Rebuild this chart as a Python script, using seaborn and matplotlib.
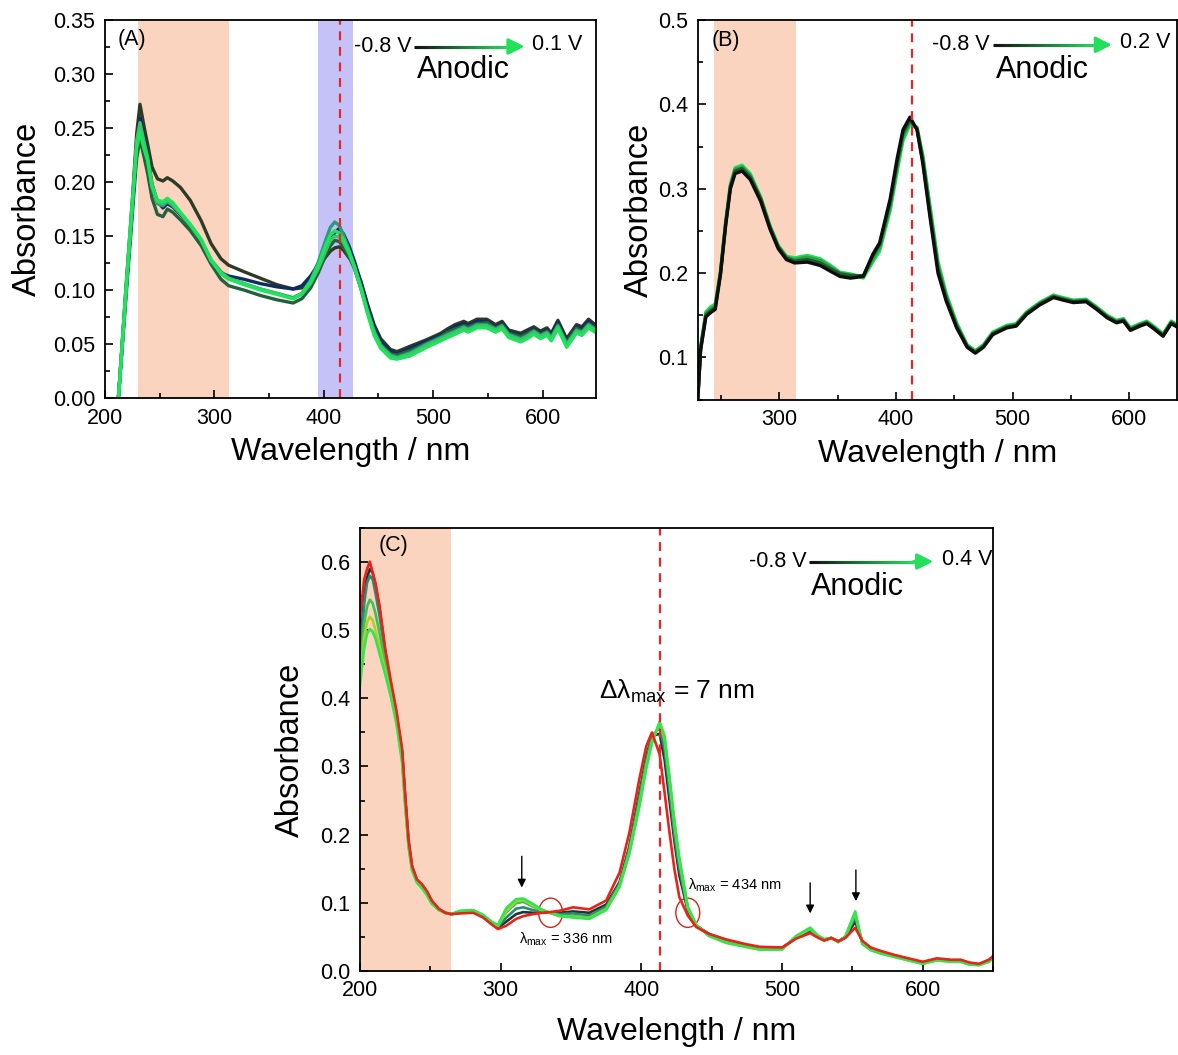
import numpy as np
import pandas as pd
import seaborn as sns
import matplotlib
matplotlib.use('Agg')
from matplotlib import pyplot as plt
from matplotlib.collections import LineCollection
from matplotlib.colors import LinearSegmentedColormap
from matplotlib.patches import Ellipse

# ---------------- data ----------------
# panel A
wl_a = [210, 213, 219, 225, 229, 232, 236, 239, 243, 248, 253, 257, 262, 269, 278, 288, 297, 306, 313, 327,
        342, 357, 372, 380, 388, 395, 402, 406, 410, 414, 418, 423, 428, 434, 440, 446, 452, 461, 467, 479,
        494, 507, 513, 520, 528, 532, 540, 549, 557, 563, 569, 580, 586, 592, 598, 604, 608, 614, 622, 631,
        636, 642, 648]
a_olive = [-0.03, 0.01, 0.100, 0.183, 0.245, 0.272, 0.250, 0.235, 0.214, 0.203, 0.201, 0.204, 0.201, 0.195, 0.183, 0.164, 0.143, 0.129, 0.123, 0.117,
           0.111, 0.105, 0.101, 0.102, 0.110, 0.121, 0.131, 0.136, 0.139, 0.140, 0.137, 0.130, 0.124, 0.108, 0.087, 0.068, 0.055, 0.045, 0.043, 0.048,
           0.054, 0.060, 0.064, 0.068, 0.071, 0.069, 0.073, 0.073, 0.068, 0.071, 0.063, 0.060, 0.063, 0.066, 0.062, 0.065, 0.060, 0.072, 0.055, 0.068,
           0.066, 0.073, 0.068]
a_navy = [-0.03, 0.01, 0.095, 0.175, 0.235, 0.259, 0.240, 0.225, 0.198, 0.182, 0.176, 0.180, 0.177, 0.170, 0.159, 0.145, 0.126, 0.116, 0.113, 0.110,
          0.106, 0.103, 0.101, 0.104, 0.113, 0.124, 0.137, 0.146, 0.153, 0.157, 0.152, 0.141, 0.127, 0.107, 0.085, 0.066, 0.053, 0.043, 0.041, 0.046,
          0.053, 0.058, 0.062, 0.066, 0.069, 0.067, 0.071, 0.071, 0.066, 0.069, 0.061, 0.058, 0.061, 0.064, 0.060, 0.063, 0.058, 0.070, 0.053, 0.066,
          0.064, 0.071, 0.066]
a_dkgreen = [-0.03, 0.01, 0.090, 0.170, 0.222, 0.240, 0.222, 0.208, 0.185, 0.170, 0.168, 0.175, 0.172, 0.165, 0.155, 0.141, 0.124, 0.110, 0.104, 0.100,
             0.095, 0.091, 0.088, 0.092, 0.102, 0.116, 0.133, 0.141, 0.146, 0.145, 0.140, 0.131, 0.120, 0.101, 0.080, 0.062, 0.050, 0.041, 0.040, 0.044,
             0.051, 0.057, 0.061, 0.064, 0.067, 0.066, 0.069, 0.070, 0.065, 0.068, 0.060, 0.057, 0.060, 0.063, 0.059, 0.062, 0.057, 0.068, 0.052, 0.065,
             0.062, 0.069, 0.065]
a_teal = [-0.03, 0.01, 0.095, 0.178, 0.238, 0.252, 0.232, 0.220, 0.195, 0.180, 0.178, 0.182, 0.178, 0.171, 0.160, 0.146, 0.128, 0.117, 0.111, 0.106,
          0.101, 0.097, 0.093, 0.097, 0.109, 0.126, 0.147, 0.158, 0.163, 0.160, 0.151, 0.137, 0.122, 0.103, 0.081, 0.062, 0.049, 0.040, 0.038, 0.042,
          0.050, 0.056, 0.059, 0.062, 0.066, 0.064, 0.068, 0.068, 0.064, 0.067, 0.059, 0.055, 0.058, 0.062, 0.058, 0.061, 0.056, 0.067, 0.050, 0.063,
          0.061, 0.068, 0.064]
a_green = [-0.03, 0.01, 0.097, 0.180, 0.238, 0.255, 0.236, 0.223, 0.197, 0.182, 0.180, 0.183, 0.179, 0.171, 0.160, 0.146, 0.127, 0.116, 0.111, 0.106,
           0.101, 0.097, 0.092, 0.096, 0.106, 0.120, 0.137, 0.146, 0.150, 0.149, 0.144, 0.134, 0.121, 0.102, 0.080, 0.061, 0.048, 0.039, 0.037, 0.041,
           0.049, 0.055, 0.058, 0.061, 0.065, 0.063, 0.067, 0.067, 0.063, 0.066, 0.058, 0.054, 0.057, 0.061, 0.057, 0.060, 0.055, 0.066, 0.049, 0.062,
           0.060, 0.067, 0.063]
a_bright = [-0.03, 0.01, 0.098, 0.182, 0.232, 0.246, 0.230, 0.220, 0.196, 0.183, 0.182, 0.185, 0.181, 0.172, 0.161, 0.147, 0.128, 0.115, 0.110, 0.105,
            0.100, 0.096, 0.092, 0.097, 0.108, 0.123, 0.142, 0.151, 0.155, 0.153, 0.147, 0.136, 0.122, 0.101, 0.078, 0.058, 0.046, 0.037, 0.036, 0.039,
            0.047, 0.053, 0.056, 0.059, 0.063, 0.061, 0.065, 0.065, 0.061, 0.064, 0.056, 0.052, 0.055, 0.059, 0.055, 0.058, 0.053, 0.064, 0.047, 0.060,
            0.058, 0.065, 0.061]

# panel B
wl_b = [230, 232.5, 237, 241, 245, 249.5, 254, 258, 262, 268, 275, 284, 292, 299, 306, 313, 324, 335, 344, 352,
        361, 372, 380, 386, 395, 401, 406, 412, 418, 423, 429, 436, 443, 452, 461, 468, 475, 483, 495, 503,
        512, 523, 535, 543, 552, 563, 572, 581, 589, 595, 601, 609, 615, 621, 629, 636, 641]
b_green3 = [0.050, 0.113, 0.154, 0.160, 0.163, 0.202, 0.261, 0.305, 0.325, 0.328, 0.318, 0.290, 0.256, 0.233, 0.220, 0.218, 0.221, 0.217, 0.209, 0.201,
            0.199, 0.194, 0.213, 0.226, 0.274, 0.320, 0.357, 0.376, 0.373, 0.340, 0.282, 0.214, 0.176, 0.141, 0.115, 0.108, 0.115, 0.130, 0.138, 0.140,
            0.154, 0.165, 0.174, 0.171, 0.168, 0.169, 0.160, 0.150, 0.144, 0.146, 0.135, 0.140, 0.143, 0.137, 0.128, 0.143, 0.139]
b_green2 = [0.050, 0.112, 0.152, 0.157, 0.161, 0.201, 0.260, 0.304, 0.323, 0.326, 0.316, 0.289, 0.255, 0.232, 0.219, 0.216, 0.219, 0.215, 0.207, 0.200,
            0.198, 0.196, 0.216, 0.230, 0.279, 0.326, 0.362, 0.379, 0.372, 0.337, 0.277, 0.209, 0.173, 0.139, 0.114, 0.107, 0.114, 0.129, 0.137, 0.139,
            0.153, 0.164, 0.173, 0.170, 0.167, 0.168, 0.159, 0.149, 0.143, 0.145, 0.134, 0.139, 0.142, 0.136, 0.127, 0.142, 0.138]
b_green1 = [0.049, 0.110, 0.150, 0.155, 0.159, 0.200, 0.259, 0.302, 0.321, 0.324, 0.314, 0.288, 0.254, 0.231, 0.218, 0.214, 0.216, 0.212, 0.205, 0.199,
            0.197, 0.197, 0.220, 0.234, 0.284, 0.331, 0.366, 0.382, 0.371, 0.333, 0.272, 0.205, 0.170, 0.137, 0.113, 0.106, 0.113, 0.128, 0.136, 0.138,
            0.152, 0.163, 0.172, 0.169, 0.166, 0.167, 0.158, 0.148, 0.142, 0.144, 0.133, 0.138, 0.141, 0.135, 0.126, 0.141, 0.137]
b_black = [0.049, 0.109, 0.148, 0.153, 0.157, 0.198, 0.257, 0.300, 0.318, 0.321, 0.311, 0.285, 0.252, 0.229, 0.216, 0.212, 0.213, 0.209, 0.202, 0.196,
           0.194, 0.196, 0.222, 0.236, 0.288, 0.336, 0.370, 0.385, 0.370, 0.330, 0.268, 0.200, 0.167, 0.135, 0.112, 0.105, 0.112, 0.127, 0.135, 0.137,
           0.151, 0.162, 0.171, 0.168, 0.165, 0.166, 0.157, 0.147, 0.141, 0.143, 0.132, 0.137, 0.140, 0.134, 0.125, 0.140, 0.136]

# panel C
wl_c = [196, 200, 203, 205, 207, 209, 211, 214, 218, 222, 226, 230, 232, 234.5, 237, 240.5, 244, 247.5, 251, 256,
        260.5, 265, 271, 280.5, 287.5, 293.5, 298, 304, 311, 316, 323, 329, 335, 342, 351.5, 363, 375, 384.5, 391.5, 398.5,
        403.5, 407.5, 413, 416.5, 420, 423.5, 427, 433, 439, 448, 460, 474, 484, 500, 510, 520, 525, 530, 535, 540,
        545, 552, 557, 563, 570, 580, 590, 600, 610, 620, 627, 633, 640, 647, 651]
c_dark = [0.34, 0.47, 0.55, 0.578, 0.59, 0.585, 0.565, 0.53, 0.468, 0.42, 0.376, 0.32, 0.258, 0.19, 0.152, 0.133, 0.126, 0.116, 0.102, 0.090,
          0.085, 0.083, 0.085, 0.086, 0.079, 0.069, 0.063, 0.072, 0.083, 0.086, 0.085, 0.085, 0.085, 0.085, 0.087, 0.085, 0.097, 0.130, 0.183, 0.260,
          0.315, 0.345, 0.348, 0.310, 0.250, 0.190, 0.140, 0.088, 0.066, 0.054, 0.045, 0.038, 0.034, 0.033, 0.048, 0.058, 0.050, 0.045, 0.048, 0.043,
          0.049, 0.072, 0.043, 0.033, 0.028, 0.022, 0.017, 0.012, 0.017, 0.015, 0.015, 0.011, 0.009, 0.015, 0.022]
c_teal = [0.33, 0.46, 0.54, 0.57, 0.58, 0.575, 0.555, 0.52, 0.462, 0.415, 0.372, 0.316, 0.255, 0.188, 0.151, 0.132, 0.125, 0.115, 0.101, 0.090,
          0.085, 0.083, 0.086, 0.087, 0.080, 0.070, 0.064, 0.078, 0.091, 0.093, 0.089, 0.086, 0.085, 0.083, 0.084, 0.081, 0.094, 0.128, 0.180, 0.255,
          0.310, 0.345, 0.357, 0.325, 0.265, 0.200, 0.150, 0.090, 0.066, 0.053, 0.044, 0.037, 0.033, 0.033, 0.049, 0.060, 0.051, 0.045, 0.048, 0.043,
          0.050, 0.078, 0.042, 0.033, 0.028, 0.022, 0.017, 0.012, 0.017, 0.015, 0.015, 0.011, 0.009, 0.015, 0.022]
c_green = [0.32, 0.44, 0.51, 0.535, 0.545, 0.54, 0.525, 0.495, 0.45, 0.41, 0.368, 0.31, 0.25, 0.185, 0.150, 0.132, 0.124, 0.114, 0.100, 0.090,
           0.085, 0.083, 0.087, 0.088, 0.081, 0.071, 0.066, 0.086, 0.099, 0.101, 0.094, 0.088, 0.085, 0.081, 0.080, 0.078, 0.091, 0.125, 0.175, 0.245,
           0.303, 0.338, 0.362, 0.338, 0.278, 0.213, 0.160, 0.092, 0.067, 0.052, 0.042, 0.036, 0.032, 0.032, 0.050, 0.062, 0.052, 0.046, 0.048, 0.042,
           0.050, 0.083, 0.041, 0.032, 0.027, 0.021, 0.016, 0.011, 0.016, 0.014, 0.014, 0.010, 0.009, 0.014, 0.021]
c_lime = [0.31, 0.43, 0.49, 0.512, 0.52, 0.515, 0.50, 0.475, 0.44, 0.405, 0.365, 0.307, 0.248, 0.183, 0.148, 0.130, 0.122, 0.112, 0.099, 0.089,
          0.085, 0.083, 0.087, 0.088, 0.081, 0.071, 0.066, 0.088, 0.102, 0.104, 0.096, 0.089, 0.085, 0.080, 0.079, 0.077, 0.090, 0.124, 0.174, 0.243,
          0.300, 0.336, 0.364, 0.342, 0.282, 0.217, 0.163, 0.093, 0.067, 0.051, 0.041, 0.035, 0.031, 0.031, 0.050, 0.062, 0.052, 0.046, 0.048, 0.042,
          0.050, 0.085, 0.040, 0.031, 0.026, 0.020, 0.015, 0.010, 0.015, 0.013, 0.013, 0.009, 0.008, 0.013, 0.020]
c_bright = [0.30, 0.42, 0.475, 0.495, 0.502, 0.498, 0.488, 0.465, 0.435, 0.402, 0.362, 0.305, 0.246, 0.182, 0.147, 0.129, 0.121, 0.111, 0.098, 0.089,
            0.085, 0.083, 0.088, 0.089, 0.082, 0.072, 0.067, 0.092, 0.105, 0.106, 0.098, 0.090, 0.085, 0.080, 0.078, 0.076, 0.089, 0.123, 0.172, 0.240,
            0.297, 0.334, 0.366, 0.345, 0.285, 0.220, 0.166, 0.094, 0.067, 0.051, 0.041, 0.035, 0.031, 0.031, 0.051, 0.063, 0.052, 0.046, 0.048, 0.042,
            0.050, 0.087, 0.039, 0.030, 0.025, 0.020, 0.015, 0.010, 0.015, 0.013, 0.013, 0.009, 0.008, 0.013, 0.020]
c_red = [0.40, 0.52, 0.575, 0.59, 0.601, 0.585, 0.57, 0.535, 0.472, 0.425, 0.381, 0.325, 0.262, 0.193, 0.154, 0.134, 0.127, 0.117, 0.103, 0.091,
         0.085, 0.083, 0.084, 0.085, 0.078, 0.068, 0.061, 0.066, 0.076, 0.080, 0.083, 0.085, 0.086, 0.088, 0.093, 0.090, 0.103, 0.144, 0.203, 0.281,
         0.330, 0.350, 0.318, 0.262, 0.203, 0.149, 0.108, 0.081, 0.064, 0.054, 0.046, 0.039, 0.035, 0.034, 0.047, 0.055, 0.049, 0.044, 0.048, 0.043,
         0.048, 0.063, 0.044, 0.034, 0.029, 0.023, 0.018, 0.013, 0.018, 0.016, 0.016, 0.012, 0.010, 0.016, 0.023]

# ---------------- style ----------------
sns.set_style('ticks')
plt.rcParams['font.family'] = ['Liberation Sans', 'DejaVu Sans']
plt.rcParams['mathtext.fontset'] = 'custom'
plt.rcParams['mathtext.rm'] = 'Liberation Sans'
plt.rcParams['axes.linewidth'] = 1.3
for key in ('text.color', 'axes.labelcolor', 'xtick.color', 'ytick.color', 'axes.edgecolor'):
    plt.rcParams[key] = 'black'

fig = plt.figure(figsize=(11.78, 10.55), dpi=100)
axA = fig.add_axes([0.0891, 0.6227, 0.4170, 0.3583])
axB = fig.add_axes([0.5923, 0.6213, 0.4069, 0.3596])
axC = fig.add_axes([0.3056, 0.0800, 0.5374, 0.4192])

peach = '#fad4bf'


def draw_curves(ax, wl, curves, lw):
    rows = []
    for name, (vals, col) in curves.items():
        rows.append(pd.DataFrame({'wavelength': wl, 'absorbance': vals, 'curve': name}))
    df = pd.concat(rows, ignore_index=True)
    pal = {name: col for name, (vals, col) in curves.items()}
    sns.lineplot(data=df, x='wavelength', y='absorbance', hue='curve', hue_order=list(curves),
                 palette=pal, estimator=None, sort=False, legend=False, linewidth=lw, ax=ax)


def style_axes(ax, xlim, ylim, xmaj, ymaj, yfmt, xpad, ypad):
    ax.set_xlim(*xlim)
    ax.set_ylim(*ylim)
    ax.set_xticks(xmaj)
    ax.set_yticks(ymaj)
    ax.set_yticklabels([yfmt.format(v) for v in ymaj])
    ax.xaxis.set_minor_locator(plt.MultipleLocator(50))
    ax.tick_params(which='both', direction='in', top=False, right=False, labelsize=15.5, width=1.2, pad=7)
    ax.tick_params(which='major', length=6)
    ax.tick_params(which='minor', length=3.5)
    ax.set_xlabel('Wavelength / nm', fontsize=23, labelpad=xpad)
    ax.set_ylabel('Absorbance', fontsize=23.5, labelpad=ypad)
    for s in ax.spines.values():
        s.set_visible(True)
        s.set_color('black')


def gradient_arrow(ax, x0, x1, y, left_txt, right_txt, anodic_x, anodic_y):
    n = 60
    xs = np.linspace(x0, x1, n)
    segs = [[(xs[i], y), (xs[min(i + 2, n - 1)], y)] for i in range(n - 1)]
    cmap = LinearSegmentedColormap.from_list('anod', ['#111111', '#1f7a3e', '#22e05a'])
    lc = LineCollection(segs, colors=cmap(np.linspace(0, 1, n - 1)), linewidths=2.2,
                        transform=ax.transAxes, capstyle='butt')
    ax.add_collection(lc)
    ax.annotate('', xy=(x1 + 0.035, y), xytext=(x1 - 0.005, y), xycoords='axes fraction',
                arrowprops=dict(arrowstyle='-|>', color='#22e05a', lw=2.2, mutation_scale=24))
    ax.text(x0 - 0.005, y, left_txt, transform=ax.transAxes, ha='right', va='center', fontsize=15.5)
    ax.text(x1 + 0.045, y + 0.005, right_txt, transform=ax.transAxes, ha='left', va='center', fontsize=15.5)
    ax.text(anodic_x, anodic_y, 'Anodic', transform=ax.transAxes, ha='center', va='center', fontsize=22)


# ---------------- panel A ----------------
axA.axvspan(230.5, 313, color=peach, lw=0, zorder=0)
axA.axvspan(395, 426.5, color='#c5c2f8', lw=0, zorder=0)
draw_curves(axA, wl_a, {
    'olive': (a_olive, '#2e3b24'),
    'navy': (a_navy, '#0f2b63'),
    'dkgreen': (a_dkgreen, '#23603c'),
    'teal': (a_teal, '#2a9c7c'),
    'green': (a_green, '#3cc468'),
    'bright': (a_bright, '#20e35d'),
}, 2.4)
axA.axvline(414.5, color='#e8262a', ls=(0, (4, 3)), lw=1.6)
style_axes(axA, (200, 649), (0, 0.35), [200, 300, 400, 500, 600],
           [0, 0.05, 0.10, 0.15, 0.20, 0.25, 0.30, 0.35], '{:.2f}', 6, 7)
axA.yaxis.set_minor_locator(plt.MultipleLocator(0.025))
axA.text(0.025, 0.975, '(A)', transform=axA.transAxes, ha='left', va='top', fontsize=15.5)
gradient_arrow(axA, 0.63, 0.825, 0.93, '-0.8 V', '0.1 V', 0.73, 0.868)

# ---------------- panel B ----------------
axB.axvspan(244, 314, color=peach, lw=0, zorder=0)
draw_curves(axB, wl_b, {
    'g3': (b_green3, '#22e05a'),
    'g2': (b_green2, '#2aa548'),
    'g1': (b_green1, '#1d5a2c'),
    'black': (b_black, '#0e0e0e'),
}, 2.4)
axB.axvline(413.5, color='#e8262a', ls=(0, (4, 3)), lw=1.6)
style_axes(axB, (230, 641), (0.05, 0.5), [300, 400, 500, 600],
           [0.1, 0.2, 0.3, 0.4, 0.5], '{:.1f}', 6, 2)
axB.yaxis.set_minor_locator(plt.MultipleLocator(0.05))
axB.text(0.03, 0.975, '(B)', transform=axB.transAxes, ha='left', va='top', fontsize=15.5)
gradient_arrow(axB, 0.615, 0.835, 0.935, '-0.8 V', '0.2 V', 0.72, 0.868)

# ---------------- panel C ----------------
axC.axvspan(195, 264.5, color=peach, lw=0, zorder=0)
draw_curves(axC, wl_c, {
    'dark': (c_dark, '#1d3537'),
    'teal': (c_teal, '#2c8c6f'),
    'green': (c_green, '#3bc257'),
    'lime': (c_lime, '#b5cc2a'),
    'bright': (c_bright, '#2fe64e'),
    'red': (c_red, '#e8231b'),
}, 1.9)
axC.axvline(413, color='#e8262a', ls=(0, (4, 3)), lw=1.6)
style_axes(axC, (200, 650), (0, 0.65), [200, 300, 400, 500, 600],
           [0.0, 0.1, 0.2, 0.3, 0.4, 0.5, 0.6], '{:.1f}', 11, 10)
axC.yaxis.set_minor_locator(plt.MultipleLocator(0.05))
axC.text(0.03, 0.985, '(C)', transform=axC.transAxes, ha='left', va='top', fontsize=15.5)
gradient_arrow(axC, 0.71, 0.875, 0.925, '-0.8 V', '0.4 V', 0.785, 0.868)

axC.text(370, 0.41, r'Δλ$_{\rm max}$ = 7 nm', fontsize=19, ha='left', va='center')
for cx in (335.5, 433):
    axC.add_patch(Ellipse((cx, 0.085), 17, 0.043, fill=False, ec='#d8231b', lw=1.0))
axC.text(313, 0.046, r'λ$_{\rm max}$ = 336 nm', fontsize=10.5, ha='left', va='center')
axC.text(433, 0.126, r'λ$_{\rm max}$ = 434 nm', fontsize=10.5, ha='left', va='center')
for ax_x, y_top, y_tip in ((315, 0.172, 0.118), (520, 0.133, 0.080), (552.5, 0.152, 0.098)):
    axC.annotate('', xy=(ax_x, y_tip), xytext=(ax_x, y_top),
                 arrowprops=dict(arrowstyle='-|>', color='black', lw=1.0, mutation_scale=12))

fig.savefig('out.png', dpi=100)
